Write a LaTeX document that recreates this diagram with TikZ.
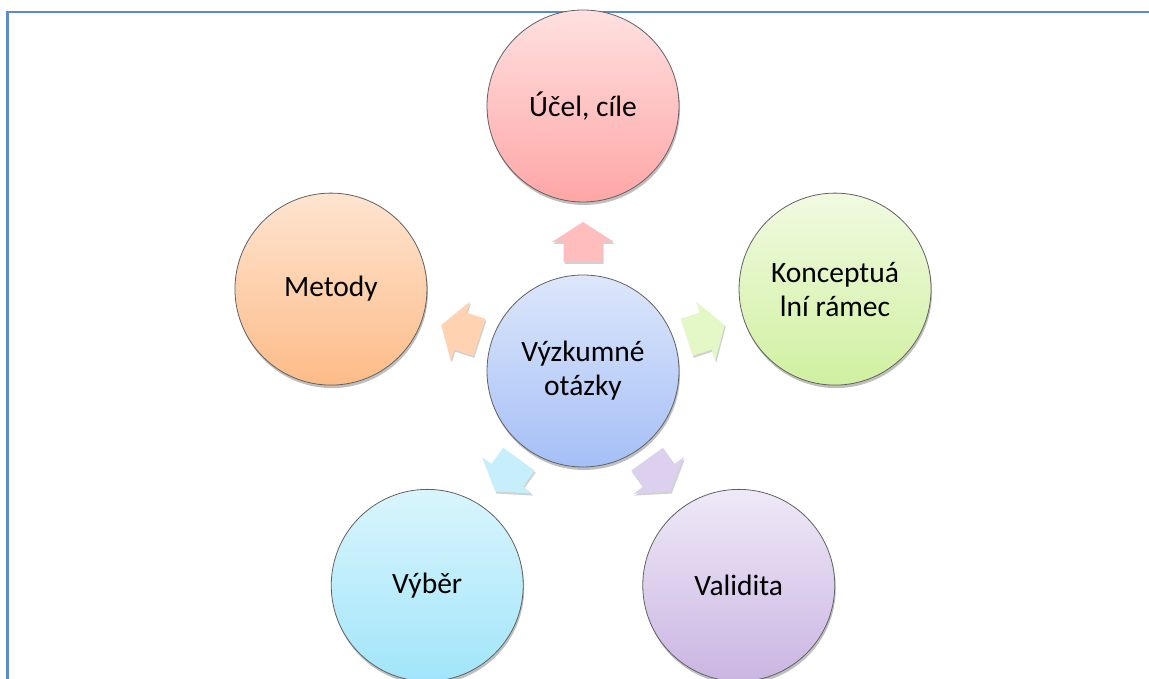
\documentclass[tikz,border=0pt]{standalone}
\usepackage{fontspec}
\setmainfont{Carlito}
\usetikzlibrary{shadows,calc}
\definecolor{framec}{HTML}{5B8BCB}
\definecolor{redT}{HTML}{FFE0E0}\definecolor{redB}{HTML}{FFA6A6}\definecolor{redA}{HTML}{FFBDBD}
\definecolor{bluT}{HTML}{DDE7FB}\definecolor{bluB}{HTML}{A5BFF6}
\definecolor{orT}{HTML}{FEE4D0}\definecolor{orB}{HTML}{FDBC88}\definecolor{orA}{HTML}{FFD2B2}
\definecolor{grT}{HTML}{F1FAE1}\definecolor{grB}{HTML}{D0F0A0}\definecolor{grA}{HTML}{E4F7C6}
\definecolor{cyT}{HTML}{D9F5FC}\definecolor{cyB}{HTML}{A1E5FA}\definecolor{cyA}{HTML}{C6EFFB}
\definecolor{viT}{HTML}{EFE9F7}\definecolor{viB}{HTML}{CAB5E2}\definecolor{viA}{HTML}{DCD0EE}
\tikzset{
  bubble/.style={circle, minimum size=192pt, inner sep=0pt, draw=black!62, line width=0.8pt,
    align=center, text=black, font=\fontsize{29.5}{34}\selectfont,
    drop shadow={shadow xshift=1pt, shadow yshift=-3pt, opacity=0.25, fill=black}},
  arr/.pic={\path[fill=#1, drop shadow={shadow xshift=1pt, shadow yshift=-2pt, opacity=0.18, fill=black}]
    (-20,-19.5) -- (0,-19.5) -- (0,-31) -- (20,0) -- (0,31) -- (0,19.5) -- (-20,19.5) -- cycle;}
}
\begin{document}
\begin{tikzpicture}[x=1pt,y=1pt]
\useasboundingbox (0,0) rectangle (1149,679);
\draw[framec, line width=2.6pt] (7.5,-10) -- (7.5,667) -- (1160,667);
\coordinate (C0) at (583,308);
\node[bubble, top color=redT, bottom color=redB] (ucel) at ($(C0)+(90:265)$) {Účel, cíle};
\node[bubble, top color=grT, bottom color=grB] (konc) at ($(C0)+(18:265)$) {Konceptuá\\lní rámec};
\node[bubble, top color=orT, bottom color=orB] (met) at ($(C0)+(162:265)$) {Metody};
\node[bubble, top color=cyT, bottom color=cyB] (vyb) at ($(C0)+(234:265)$) {Výběr};
\node[bubble, top color=viT, bottom color=viB] (val) at ($(C0)+(306:265)$) {Validita};
\node[bubble, top color=bluT, bottom color=bluB] (vq) at (C0) {Výzkumné\\otázky};
\pic[rotate=90] at ($(vq.center)!129pt!(ucel.center)$) {arr=redA};
\pic[rotate=18] at ($(vq.center)!129pt!(konc.center)$) {arr=grA};
\pic[rotate=162] at ($(vq.center)!129pt!(met.center)$) {arr=orA};
\pic[rotate=234] at ($(vq.center)!129pt!(vyb.center)$) {arr=cyA};
\pic[rotate=306] at ($(vq.center)!129pt!(val.center)$) {arr=viA};
\end{tikzpicture}
\end{document}
